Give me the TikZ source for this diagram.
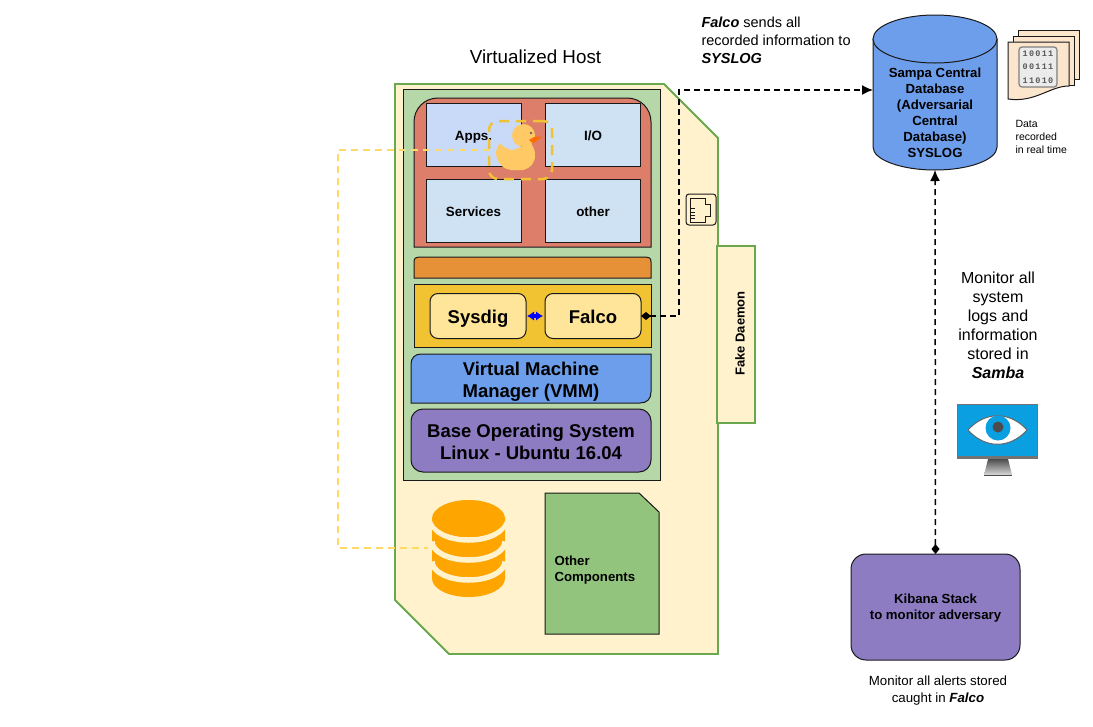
\documentclass[tikz,border=0pt]{standalone}
\usepackage{fontspec}
\setmainfont{Liberation Sans}
\newfontfamily\bitsfont[LetterSpace=15]{Liberation Mono}
\usetikzlibrary{arrows.meta,shapes.geometric}
\definecolor{hostfill}{HTML}{FFF2CC}
\definecolor{hostedge}{HTML}{6AA84F}
\definecolor{panelgreen}{HTML}{B6D7A8}
\definecolor{panelred}{HTML}{DD7E6B}
\definecolor{appblue}{HTML}{C9DAF8}
\definecolor{tileblue}{HTML}{CFE2F3}
\definecolor{barorange}{HTML}{E69138}
\definecolor{baryellow}{HTML}{F1C232}
\definecolor{softyellow}{HTML}{FFE599}
\definecolor{vmmblue}{HTML}{6D9EEB}
\definecolor{ospurple}{HTML}{8E7CC3}
\definecolor{compgreen}{HTML}{93C47D}
\definecolor{duckyellow}{HTML}{FFC966}
\definecolor{stackorange}{HTML}{FFA500}
\definecolor{linkyellow}{HTML}{FFD966}
\definecolor{sheet}{HTML}{FCE5CD}
\definecolor{screenblue}{HTML}{0A9FE0}

\begin{document}
\begin{tikzpicture}[x = 1pt, y = -1pt, line width = 1pt,
    box/.style = {draw = black!90, inner sep = 0pt, outer sep = 0pt},
    tile/.style = {box, fill = tileblue, minimum width = 95pt, minimum height = 63pt, text height = 11pt, text depth = 0pt, font = \bfseries\fontsize{13.4}{16}\selectfont},
    soft/.style = {box, fill = softyellow, rounded corners = 8pt, minimum width = 96pt, minimum height = 45pt, text height = 14.6pt, text depth = 0pt, font = \bfseries\fontsize{18.5}{22}\selectfont},
    big/.style = {inner sep = 0pt, align = center, font = \bfseries\fontsize{18.5}{22}\selectfont},
    mid/.style = {inner sep = 0pt, align = center, font = \bfseries\fontsize{13.2}{16}\selectfont},
    note/.style = {inner sep = 0pt, font = \fontsize{14.5}{18.2}\selectfont},
    dlink/.style = {draw = black, line width = 1.5pt, dash pattern = on 6pt off 4pt, {Diamond[length = 10pt, width = 8pt]}-{Latex[length = 11pt, width = 10pt]}},
    ylink/.style = {draw = linkyellow, line width = 1.5pt, dash pattern = on 7pt off 5pt}]
  \useasboundingbox (0, 0) rectangle (1093, 726);

  \node [note, font = \fontsize{18.8}{22}\selectfont] (title) at (535.5, 57) {Virtualized Host};

  \draw [hostedge, fill = hostfill, line width = 1.8pt] (395, 84) -- (664, 84) -- (718, 138) -- (718, 654) -- (449, 654) -- (395, 600) -- cycle;
  \node [draw = hostedge, fill = hostfill, line width = 1.8pt, minimum width = 38pt, minimum height = 177pt, inner sep = 0pt] (daemon) at (736, 334.5) {};
  \node [mid, rotate = 90, font = \bfseries\fontsize{13}{15}\selectfont] (daemontxt) at (740, 333.5) {Fake Daemon};
  \draw [box, fill = panelgreen] (403, 89) rectangle (660, 480);

  \draw [box, fill = panelred] (414, 247) -- (414, 122) .. controls (414, 109) and (424, 98) .. (438, 98) -- (627, 98) .. controls (641, 98) and (651, 109) .. (651, 122) -- (651, 247) -- cycle;
  \node [tile, fill = appblue] (apps) at (473.5, 134.5) {Apps.};
  \node [tile] (io) at (593, 134.5) {I/O};
  \node [tile] (services) at (473.5, 210.5) {Services};
  \node [tile] (other) at (593, 210.5) {other};

  \draw [box, fill = barorange] (414, 278) -- (414, 262) .. controls (414, 258) and (416, 257) .. (419, 257) -- (646, 257) .. controls (649, 257) and (651, 258) .. (651, 262) -- (651, 278) -- cycle;
  \draw [box, fill = baryellow] (414, 284) rectangle (651, 347);
  \node [soft] (sysdig) at (478, 316) {Sysdig};
  \node [soft] (falco) at (593, 316) {Falco};

  \draw [box, fill = vmmblue] (411, 403) -- (411, 364) .. controls (411, 358) and (415, 354) .. (421, 354) -- (651, 354) -- (651, 392) .. controls (651, 399) and (647, 403) .. (640, 403) -- cycle;
  \node [big] (vmm) at (531, 382) {Virtual Machine\\Manager (VMM)};
  \node [box, fill = ospurple, rounded corners = 12pt, minimum width = 240pt, minimum height = 63pt] (baseos) at (531, 440.5) {};
  \node [big] (baseostxt) at (531, 441.5) {Base Operating System\\Linux - Ubuntu 16.04};

  \draw [{Latex[length = 7pt, width = 9.5pt]}-{Latex[length = 7pt, width = 9.5pt]}, blue, line width = 3.5pt] ([xshift = 1pt] sysdig.east) -- ([xshift = -2pt] falco.west);

  \draw [box, fill = compgreen] (545, 493) -- (639, 493) -- (659, 512) -- (659, 634) -- (545, 634) -- cycle;
  \node [mid, align = left, anchor = west] (comptxt) at (554, 570) {Other\\Components};

  \fill [stackorange] (432, 518) -- (505, 518) -- (505, 578.5) arc [start angle = 0, end angle = -180, x radius = 36.5pt, y radius = 18.5pt] -- cycle;
  \foreach \ypos in {521.5, 541.5, 561.5} {
    \draw [hostfill, line width = 5.5pt] (432, \ypos) arc [start angle = 180, end angle = 360, x radius = 36.5pt, y radius = 18.5pt];
  }
  \node [ellipse, fill = stackorange, minimum width = 73pt, minimum height = 37pt, inner sep = 0pt] (stack) at (468.5, 518.5) {};

  \coordinate (ylink1) at (338, 150);
  \coordinate (ylink2) at (338, 548);
  \coordinate (ylink3) at (428, 548);
  \coordinate (duckedge) at (490, 150);
  \draw [ylink] (duckedge) -- (ylink1) -- (ylink2) -- (ylink3);

  \fill [duckyellow] (513, 150) .. controls (508, 150) and (503, 147) .. (500, 143) .. controls (496, 148) and (495, 154) .. (497, 158) .. controls (499, 165) and (504, 169) .. (511, 170) -- (523, 170) .. controls (532, 168) and (536, 160) .. (535, 154) .. controls (535, 150) and (533, 147) .. (531, 143) -- cycle;
  \node [circle, fill = duckyellow, minimum size = 23pt, inner sep = 0pt] (duck) at (523.5, 135.5) {};
  \fill [orange!85!red] (529, 140) -- (534, 137) -- (542, 136.5) -- (533, 143.5) -- cycle;
  \fill [black!60] (531, 133) circle [radius = 1.4];
  \node [draw = baryellow, line width = 2.5pt, dash pattern = on 10pt off 7pt, rounded corners = 9pt, minimum width = 63pt, minimum height = 58pt, inner sep = 0pt] (duckbox) at (520.5, 150) {};

  \node [box, rounded corners = 3pt, fill = hostfill, minimum width = 30pt, minimum height = 31pt] (port) at (701, 209.5) {};
  \draw [black!90] (690, 198) -- (705, 198) -- (705, 204) -- (710, 204) -- (710, 216) -- (705, 216) -- (705, 222) -- (690, 222) -- cycle;
  \foreach \ypos in {208, 212, 215, 218} {
    \draw [black!90, line width = .8pt] (690, \ypos) -- (695, \ypos);
  }

  \node [minimum width = 124pt, minimum height = 155pt, inner sep = 0pt, outer sep = 0pt] (db) at (935, 92.5) {};
  \draw [box, fill = vmmblue] (873, 39) -- (873, 147) arc [start angle = 180, end angle = 360, x radius = 62pt, y radius = 23pt] -- (997, 39) -- cycle;
  \node [ellipse, box, fill = vmmblue, minimum width = 124pt, minimum height = 48pt] (dbtop) at (935, 39) {};
  \node [mid] (dbtxt) at (935, 113) {Sampa Central\\Database\\(Adversarial\\Central\\Database)\\SYSLOG};

  \node [box, fill = ospurple, rounded corners = 15pt, minimum width = 169pt, minimum height = 106pt] (kibana) at (935.5, 607) {};
  \node [mid] (kibanatxt) at (935.5, 608) {Kibana Stack\\to monitor adversary};

  \coordinate (falcolink1) at (679, 316);
  \coordinate (falcolink2) at (679, 90);
  \coordinate (dbin) at (873, 90);
  \draw [dlink] (falco.east) -- (falcolink1) -- (falcolink2) -- (dbin);
  \draw [dlink] (kibana.north) -- (db.south);

  \node [note, align = left, anchor = north west] (falconote) at (701, 16) {\textbf{\textit{Falco}} sends all\\recorded information to\\\textbf{\textit{SYSLOG}}};
  \node [note, align = center, font = \fontsize{16}{19}\selectfont] (sambanote) at (998, 325.5) {Monitor all\\system\\logs and\\information\\stored in\\\textbf{\textit{Samba}}};
  \node [note, align = left, anchor = west, font = \fontsize{10.5}{13}\selectfont] (datanote) at (1015, 137) {Data\\recorded\\in real time};
  \node [note, align = center, font = \fontsize{13.3}{17}\selectfont] (alertnote) at (938, 690.5) {Monitor all alerts stored\\caught in \textbf{\textit{Falco}}};

  \draw [box, fill = sheet] (1018, 30) rectangle (1079, 79);
  \draw [box, fill = sheet] (1013, 36) rectangle (1074, 85);
  \draw [box, fill = sheet] (1008, 42) -- (1069, 42) -- (1069, 86) .. controls (1050, 86) and (1035, 103) .. (1008, 99) -- cycle;
  \node [draw = black!50, fill = black!8, line width = 1.2pt, rounded corners = 3pt, minimum width = 38pt, minimum height = 40pt, inner sep = 0pt, align = center, text = black!65, font = \bitsfont\bfseries\fontsize{8.5}{13.5}\selectfont] (bits) at (1038, 67) {10011\\00111\\11010};

  \shade [top color = black!70, bottom color = black!15] (988, 459) -- (1008, 459) -- (1012, 475) -- (984, 475) -- cycle;
  \draw [black!70] (984, 475) -- (1012, 475);
  \node [draw = black!55, fill = screenblue, line width = 1.5pt, minimum width = 80pt, minimum height = 54pt, inner sep = 0pt] (monitor) at (997.5, 431.5) {};
  \fill [black!55] (957, 456) rectangle (1038, 459);
  \fill [white, draw = black!60] (968, 430) .. controls (985, 411) and (1010, 411) .. (1027, 430) .. controls (1010, 449) and (985, 449) .. (968, 430) -- cycle;
  \fill [screenblue] (998, 428) circle [radius = 12.5];
  \fill [black!70] (998, 427) circle [radius = 5.5];
\end{tikzpicture}
\end{document}
